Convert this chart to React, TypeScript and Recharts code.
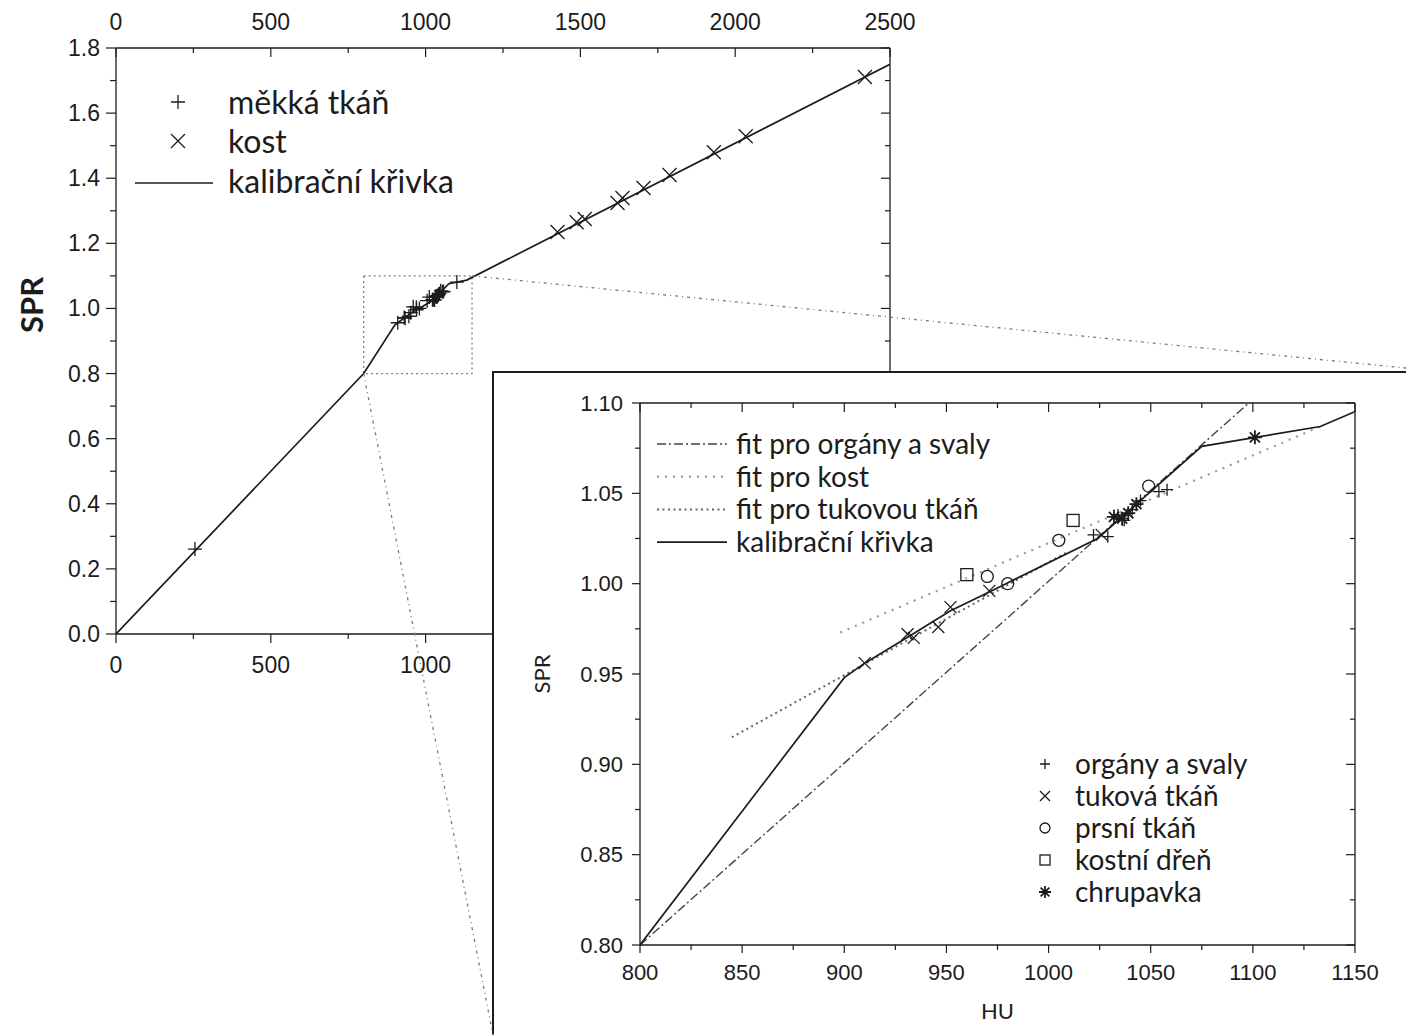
import { ComposedChart, Line, Scatter, XAxis, YAxis, ReferenceArea } from "recharts";

// ---- axis ticks (minor + major) ----
const MAIN_X_TICKS = [0, 250, 500, 750, 1000, 1250, 1500, 1750, 2000, 2250, 2500];
const MAIN_X_LABELS = [0, 500, 1000, 1500, 2000, 2500];
const MAIN_X_LABELS_BOTTOM = [0, 500, 1000]; // the rest sit under the inset
const MAIN_Y_TICKS = [0, 0.1, 0.2, 0.3, 0.4, 0.5, 0.6, 0.7, 0.8, 0.9, 1.0, 1.1, 1.2, 1.3, 1.4, 1.5, 1.6, 1.7, 1.8];
const MAIN_Y_LABELS = [0, 0.2, 0.4, 0.6, 0.8, 1.0, 1.2, 1.4, 1.6, 1.8];
const ZOOM_X_TICKS = [800, 825, 850, 875, 900, 925, 950, 975, 1000, 1025, 1050, 1075, 1100, 1125, 1150];
const ZOOM_X_LABELS = [800, 850, 900, 950, 1000, 1050, 1100, 1150];
const ZOOM_Y_TICKS = [0.8, 0.825, 0.85, 0.875, 0.9, 0.925, 0.95, 0.975, 1.0, 1.025, 1.05, 1.075, 1.1];
const ZOOM_Y_LABELS = [0.8, 0.85, 0.9, 0.95, 1.0, 1.05, 1.1];

// ---- measured points ----
const lungHU = [255];
const lungSPR = [0.261];
const boneHU = [1426, 1488, 1514, 1620, 1636, 1704, 1788, 1931, 2034, 2419];
const boneSPR = [1.235, 1.265, 1.275, 1.324, 1.339, 1.37, 1.41, 1.48, 1.529, 1.711];

const organHU = [1022, 1029, 1034, 1037, 1041, 1045, 1054, 1058];
const organSPR = [1.027, 1.026, 1.038, 1.035, 1.041, 1.046, 1.051, 1.052];
const fatHU = [910, 931, 934, 946, 952, 971, 1026];
const fatSPR = [0.956, 0.972, 0.97, 0.976, 0.987, 0.996, 1.027];
const breastHU = [970, 980, 1005, 1049];
const breastSPR = [1.004, 1.0, 1.024, 1.054];
const marrowHU = [960, 1012];
const marrowSPR = [1.005, 1.035];
const cartHU = [1032, 1036, 1039, 1043, 1101];
const cartSPR = [1.037, 1.036, 1.039, 1.044, 1.081];

// ---- curves ----
const calHU = [0, 800, 900, 910, 932, 952, 972, 1024, 1075, 1133, 2500];
const calSPR = [0, 0.8, 0.948, 0.956, 0.971, 0.985, 0.996, 1.025, 1.076, 1.087, 1.75];
const organFitHU = [800, 1098];
const organFitSPR = [0.8, 1.1];
const boneFitHU = [898, 1133];
const boneFitSPR = [0.973, 1.087];
const fatFitHU = [845, 1010];
const fatFitSPR = [0.915, 1.018];

const pts = (xs: number[], ys: number[]) => xs.map((x, i) => ({ x, y: ys[i] }));

const calibration = pts(calHU, calSPR);
const bone = pts(boneHU, boneSPR);
const organs = pts(organHU, organSPR);
const fat = pts(fatHU, fatSPR);
const breast = pts(breastHU, breastSPR);
const marrow = pts(marrowHU, marrowSPR);
const cartilage = pts(cartHU, cartSPR);
const softTissue = [...pts(lungHU, lungSPR), ...organs, ...fat, ...breast, ...marrow, ...cartilage];

const INK = "#1c1c1c";
const NUM_FONT = "'Liberation Sans', Arial, Helvetica, sans-serif";
const TXT_FONT = "Lato, 'Open Sans', sans-serif";

// main plot area in page pixels
const M = { l: 116, r: 890, t: 48, b: 634 };
const mx = (v: number) => M.l + (v / 2500) * (M.r - M.l);
const my = (v: number) => M.b - (v / 1.8) * (M.b - M.t);
// inset plot area in page pixels
const Z = { left: 493, top: 372, l: 640, r: 1355, t: 403, b: 945 };

// ---- marker shapes ----
const PlusMark = ({ cx, cy, r = 6 }: any) => (
  <path d={`M${cx - r},${cy}H${cx + r}M${cx},${cy - r}V${cy + r}`} stroke={INK} strokeWidth={1.3} fill="none" />
);
const CrossMark = ({ cx, cy, r = 6 }: any) => (
  <path d={`M${cx - r},${cy - r}L${cx + r},${cy + r}M${cx - r},${cy + r}L${cx + r},${cy - r}`} stroke={INK} strokeWidth={1.3} fill="none" />
);
const CircleMark = ({ cx, cy, r = 6 }: any) => <circle cx={cx} cy={cy} r={r} stroke={INK} strokeWidth={1.3} fill="none" />;
const SquareMark = ({ cx, cy, r = 6 }: any) => (
  <rect x={cx - r} y={cy - r} width={2 * r} height={2 * r} stroke={INK} strokeWidth={1.3} fill="none" />
);
const StarMark = ({ cx, cy, r = 7 }: any) => {
  const d = r * 0.72;
  return (
    <path
      d={`M${cx - r},${cy}H${cx + r}M${cx},${cy - r}V${cy + r}M${cx - d},${cy - d}L${cx + d},${cy + d}M${cx - d},${cy + d}L${cx + d},${cy - d}`}
      stroke={INK}
      strokeWidth={1.8}
      fill="none"
    />
  );
};

// ---- axis tick with minor ticks ----
type Side = "left" | "right" | "top" | "bottom";
interface TickOpts {
  side: Side;
  majors: number[];
  labels?: number[];
  fmt?: (v: number) => string;
  inward: boolean;
  major: number;
  minor: number;
  gap: number;
  size: number;
}

const has = (arr: number[], v: number) => arr.some((m) => Math.abs(m - v) < 1e-6);

function AxisTick(props: any) {
  const { x, y, payload, o } = props as { x: number; y: number; payload: { value: number }; o: TickOpts };
  const v = payload.value;
  const isMajor = has(o.majors, v);
  const showLabel = o.fmt && has(o.labels ?? o.majors, v);
  const len = isMajor ? o.major : o.minor;
  const [dx, dy] = o.side === "left" ? [-1, 0] : o.side === "right" ? [1, 0] : o.side === "top" ? [0, -1] : [0, 1];
  const s = o.inward ? -1 : 1;
  const outer = o.inward ? 0 : o.major;
  const lx = x + dx * (outer + o.gap);
  const ly = y + dy * (outer + o.gap);
  const anchor = o.side === "left" ? "end" : o.side === "right" ? "start" : "middle";
  return (
    <g>
      <line x1={x} y1={y} x2={x + dx * len * s} y2={y + dy * len * s} stroke={INK} strokeWidth={1.2} />
      {showLabel ? (
        <text x={lx} y={ly} textAnchor={anchor} dominantBaseline="central" fontSize={o.size} fontFamily={NUM_FONT} fill={INK}>
          {o.fmt!(v)}
        </text>
      ) : null}
    </g>
  );
}

const axisLine = { stroke: INK, strokeWidth: 1.3 };
const noTickLine = { tickLine: false, tickSize: 0, tickMargin: 0, interval: 0 as const, axisLine };

function MainChart() {
  return (
    <ComposedChart width={930} height={700} margin={{ top: 18, right: 39, bottom: 36, left: 56 }}>
      <XAxis
        type="number"
        dataKey="x"
        domain={[0, 2500]}
        ticks={MAIN_X_TICKS}
        allowDataOverflow
        height={30}
        {...noTickLine}
        tick={<AxisTick o={{ side: "bottom", majors: MAIN_X_LABELS, labels: MAIN_X_LABELS_BOTTOM, fmt: String, inward: false, major: 9, minor: 5, gap: 22, size: 23 }} />}
      />
      <XAxis
        xAxisId="top"
        orientation="top"
        type="number"
        dataKey="x"
        domain={[0, 2500]}
        ticks={MAIN_X_TICKS}
        allowDataOverflow
        height={30}
        {...noTickLine}
        tick={<AxisTick o={{ side: "top", majors: MAIN_X_LABELS, fmt: String, inward: true, major: 9, minor: 5, gap: 26, size: 23 }} />}
      />
      <YAxis
        type="number"
        dataKey="y"
        domain={[0, 1.8]}
        ticks={MAIN_Y_TICKS}
        allowDataOverflow
        width={60}
        {...noTickLine}
        tick={<AxisTick o={{ side: "left", majors: MAIN_Y_LABELS, fmt: (v: number) => v.toFixed(1), inward: false, major: 10, minor: 6, gap: 6, size: 23 }} />}
      />
      <YAxis
        yAxisId="right"
        orientation="right"
        type="number"
        domain={[0, 1.8]}
        ticks={MAIN_Y_TICKS}
        allowDataOverflow
        width={1}
        {...noTickLine}
        tick={<AxisTick o={{ side: "right", majors: MAIN_Y_LABELS, inward: true, major: 9, minor: 5, gap: 0, size: 0 }} />}
      />
      <ReferenceArea x1={800} x2={1150} y1={0.8} y2={1.1} fill="none" stroke="#808080" strokeWidth={1.3} strokeDasharray="2 3" ifOverflow="visible" />
      {/* the calibration curve is tied to the top axis (same scale) so that axis gets its ticks */}
      <Line xAxisId="top" data={calibration} dataKey="y" type="linear" stroke={INK} strokeWidth={1.7} dot={false} isAnimationActive={false} />
      <Scatter data={softTissue} dataKey="y" shape={(p: any) => <PlusMark cx={p.cx} cy={p.cy} r={7} />} isAnimationActive={false} />
      <Scatter data={bone} dataKey="y" shape={(p: any) => <CrossMark cx={p.cx} cy={p.cy} r={7} />} isAnimationActive={false} />
    </ComposedChart>
  );
}

function ZoomChart() {
  return (
    <ComposedChart width={913} height={663} margin={{ top: 30, right: 50, bottom: 50, left: 77 }}>
      <XAxis
        type="number"
        dataKey="x"
        domain={[800, 1150]}
        ticks={ZOOM_X_TICKS}
        allowDataOverflow
        height={40}
        {...noTickLine}
        tick={<AxisTick o={{ side: "bottom", majors: ZOOM_X_LABELS, fmt: String, inward: false, major: 8, minor: 5, gap: 19, size: 22 }} />}
      />
      <XAxis
        xAxisId="top"
        orientation="top"
        type="number"
        dataKey="x"
        domain={[800, 1150]}
        ticks={ZOOM_X_TICKS}
        allowDataOverflow
        height={1}
        {...noTickLine}
        tick={<AxisTick o={{ side: "top", majors: ZOOM_X_LABELS, inward: true, major: 9, minor: 5, gap: 0, size: 0 }} />}
      />
      <YAxis
        type="number"
        dataKey="y"
        domain={[0.8, 1.1]}
        ticks={ZOOM_Y_TICKS}
        allowDataOverflow
        width={70}
        {...noTickLine}
        tick={<AxisTick o={{ side: "left", majors: ZOOM_Y_LABELS, fmt: (v: number) => v.toFixed(2), inward: false, major: 8, minor: 5, gap: 9, size: 22 }} />}
      />
      <YAxis
        yAxisId="right"
        orientation="right"
        type="number"
        domain={[0.8, 1.1]}
        ticks={ZOOM_Y_TICKS}
        allowDataOverflow
        width={1}
        {...noTickLine}
        tick={<AxisTick o={{ side: "right", majors: ZOOM_Y_LABELS, inward: true, major: 9, minor: 5, gap: 0, size: 0 }} />}
      />
      <Line data={pts(organFitHU, organFitSPR)} dataKey="y" stroke="#444" strokeWidth={1.4} strokeDasharray="9 3 2 3" dot={false} isAnimationActive={false} />
      <Line data={pts(boneFitHU, boneFitSPR)} dataKey="y" stroke="#9a9a9a" strokeWidth={2.2} strokeDasharray="2 6" dot={false} isAnimationActive={false} />
      <Line data={pts(fatFitHU, fatFitSPR)} dataKey="y" stroke="#666" strokeWidth={2} strokeDasharray="2 3.5" dot={false} isAnimationActive={false} />
      <Line xAxisId="top" data={calibration} dataKey="y" stroke={INK} strokeWidth={1.7} dot={false} isAnimationActive={false} />
      <Scatter data={organs} dataKey="y" shape={(p: any) => <PlusMark cx={p.cx} cy={p.cy} r={6} />} isAnimationActive={false} />
      <Scatter data={fat} dataKey="y" shape={(p: any) => <CrossMark cx={p.cx} cy={p.cy} r={6} />} isAnimationActive={false} />
      <Scatter data={breast} dataKey="y" shape={(p: any) => <CircleMark cx={p.cx} cy={p.cy} r={6} />} isAnimationActive={false} />
      <Scatter data={marrow} dataKey="y" shape={(p: any) => <SquareMark cx={p.cx} cy={p.cy} r={6} />} isAnimationActive={false} />
      <Scatter data={cartilage} dataKey="y" shape={(p: any) => <StarMark cx={p.cx} cy={p.cy} r={7} />} isAnimationActive={false} />
    </ComposedChart>
  );
}

const legendText = (x: number, y: number, label: string, size: number) => (
  <text x={x} y={y} fontSize={size} fontFamily={TXT_FONT} fill={INK} dominantBaseline="central">
    {label}
  </text>
);

function Overlay() {
  const fitRows = [
    { label: "fit pro orgány a svaly", stroke: "#444", dash: "9 3 2 3", w: 1.4 },
    { label: "fit pro kost", stroke: "#9a9a9a", dash: "2 6", w: 2.2 },
    { label: "fit pro tukovou tkáň", stroke: "#666", dash: "2 3.5", w: 2 },
    { label: "kalibrační křivka", stroke: INK, dash: undefined, w: 1.7 },
  ];
  const tissueRows = ["orgány a svaly", "tuková tkáň", "prsní tkáň", "kostní dřeň", "chrupavka"];
  const tissueMarks = [PlusMark, CrossMark, CircleMark, SquareMark, StarMark];
  return (
    <svg width={1406} height={1035} style={{ position: "absolute", left: 0, top: 0, pointerEvents: "none" }}>
      {/* zoom connectors */}
      <line x1={mx(1150)} y1={my(1.1)} x2={1406} y2={368} stroke="#7a7a7a" strokeWidth={1.3} strokeDasharray="3 4 1 4" />
      <line x1={mx(800)} y1={my(0.8)} x2={Z.left} y2={1035} stroke="#7a7a7a" strokeWidth={1.3} strokeDasharray="3 4 1 4" />

      {/* main legend */}
      <PlusMark cx={178} cy={102} r={7} />
      {legendText(228, 101, "měkká tkáň", 32)}
      <CrossMark cx={178} cy={141} r={7} />
      {legendText(228, 140, "kost", 32)}
      <line x1={135} y1={183} x2={213} y2={183} stroke={INK} strokeWidth={1.7} />
      {legendText(228, 180, "kalibrační křivka", 32)}

      {/* main axis title */}
      <text transform={`translate(31, 305) rotate(-90)`} textAnchor="middle" dominantBaseline="central" fontSize={31} fontWeight={700} fontFamily={TXT_FONT} fill={INK}>
        SPR
      </text>

      {/* inset legend: fits */}
      {fitRows.map((r, i) => (
        <g key={r.label}>
          <line x1={657} x2={727} y1={444 + i * 32.7} y2={444 + i * 32.7} stroke={r.stroke} strokeWidth={r.w} strokeDasharray={r.dash} />
          {legendText(736, 443 + i * 32.7, r.label, 28)}
        </g>
      ))}

      {/* inset legend: tissues */}
      {tissueRows.map((label, i) => {
        const Mk = tissueMarks[i];
        return (
          <g key={label}>
            <Mk cx={1045} cy={764 + i * 32} r={i === 4 ? 6 : 5} />
            {legendText(1075, 763 + i * 32, label, 28)}
          </g>
        );
      })}

      {/* inset axis titles */}
      <text x={(Z.l + Z.r) / 2} y={1010} textAnchor="middle" dominantBaseline="central" fontSize={22} fontFamily={TXT_FONT} fill={INK}>
        HU
      </text>
      <text transform={`translate(541, ${(Z.t + Z.b) / 2}) rotate(-90)`} textAnchor="middle" dominantBaseline="central" fontSize={22} fontFamily={TXT_FONT} fill={INK}>
        SPR
      </text>
    </svg>
  );
}

export default function App() {
  return (
    <div style={{ position: "absolute", left: 0, top: 0, width: 1406, height: 1035, overflow: "hidden", background: "#fff" }}>
      <div style={{ position: "absolute", left: 0, top: 0 }}>
        <MainChart />
      </div>
      <div
        style={{
          position: "absolute",
          left: Z.left - 1,
          top: Z.top - 1,
          width: 1406 - Z.left + 1,
          height: 1035 - Z.top + 1,
          background: "#fff",
          borderLeft: `2px solid ${INK}`,
          borderTop: `2px solid ${INK}`,
          boxSizing: "border-box",
        }}
      />
      <div style={{ position: "absolute", left: Z.left, top: Z.top }}>
        <ZoomChart />
      </div>
      <Overlay />
    </div>
  );
}
